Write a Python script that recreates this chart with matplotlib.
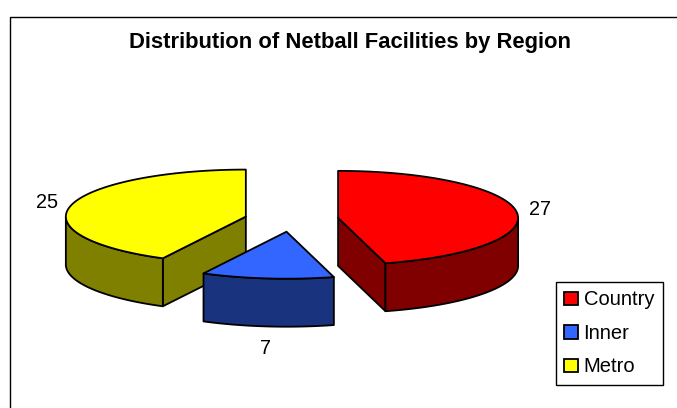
import numpy as np
import matplotlib
matplotlib.use("Agg")
import matplotlib.pyplot as plt
from matplotlib.patches import Polygon, Rectangle, Patch

plt.rcParams['font.family'] = ['Liberation Sans', 'DejaVu Sans']

# data
regions = ["Country", "Inner", "Metro"]
facilities = [27, 7, 25]
top_colors = ["#FF0000", "#3366FF", "#FFFF00"]
side_colors = ["#800000", "#1A337F", "#808000"]

W, H = 677, 408
fig = plt.figure(figsize=(W / 100, H / 100), dpi=100)
ax = fig.add_axes([0, 0, 1, 1])
ax.set_xlim(0, W)
ax.set_ylim(H, 0)
ax.axis('off')

# pie layout in pixels
cx, cy = 291.5, 219.5     # centre of the un-exploded pie
a, b = 180, 47            # ellipse radii of the top face
dep = 48                  # thickness
explode = 47              # explode distance (in x-radius units)
gap = 13                  # label distance from the rim


def pt(c, th, dy=0):
    return (c[0] + a * np.cos(th), c[1] - b * np.sin(th) + dy)


def arc(c, t1, t2, dy=0, n=80):
    ts = np.linspace(t1, t2, n)
    return [pt(c, t, dy) for t in ts]


total = sum(facilities)
start = np.pi / 2
slices = []
for name, v, tc, sc in zip(regions, facilities, top_colors, side_colors):
    sweep = 2 * np.pi * v / total
    t2 = start
    t1 = start - sweep          # clockwise from 12 o'clock
    mid = (t1 + t2) / 2
    c = (cx + explode * np.cos(mid), cy - explode * (b / a) * np.sin(mid))
    slices.append((name, v, tc, sc, t1, t2, mid, c))
    start = t1

edge = dict(edgecolor='black', linewidth=1.3, joinstyle='round')

# back to front
for name, v, tc, sc, t1, t2, mid, c in sorted(slices, key=lambda s: s[7][1]):
    # radial cut faces
    for th, nrm in ((t1, t1 - np.pi / 2), (t2, t2 + np.pi / 2)):
        if np.sin(nrm) < -1e-6:
            p = pt(c, th)
            face = [c, p, (p[0], p[1] + dep), (c[0], c[1] + dep)]
            ax.add_patch(Polygon(face, closed=True, facecolor=sc, **edge))
    # outer curved side (front half only)
    for k in range(-1, 2):
        lo = max(t1, -np.pi + 2 * np.pi * k)
        hi = min(t2, 0 + 2 * np.pi * k)
        if hi > lo:
            side = arc(c, lo, hi) + arc(c, hi, lo, dy=dep)
            ax.add_patch(Polygon(side, closed=True, facecolor=sc, **edge))
    # top face
    top = [c] + arc(c, t1, t2)
    ax.add_patch(Polygon(top, closed=True, facecolor=tc, **edge))

    # value label
    cm, sm = np.cos(mid), np.sin(mid)
    lx = c[0] + (a + gap) * cm
    ly = c[1] - (b + gap) * sm + (dep if sm < 0 else 0)
    ha = 'left' if cm > 0.3 else ('right' if cm < -0.3 else 'center')
    va = 'top' if sm < -0.3 else ('bottom' if sm > 0.3 else 'center')
    ax.text(lx, ly, str(v), ha=ha, va=va, fontsize=14.3)

ax.text(350, 48, "Distribution of Netball Facilities by Region",
        ha='center', va='baseline', fontsize=15.8, fontweight='bold')

# chart area border
ax.add_patch(Rectangle((9.5, 16.5), 700, 500, fill=False,
                       edgecolor='black', linewidth=1, clip_on=True))

handles = [Patch(facecolor=c, edgecolor='black', linewidth=1.3) for c in top_colors]
leg = ax.legend(handles, regions, loc='upper left', bbox_to_anchor=(556, 282),
                bbox_transform=ax.transData, fontsize=14.5, frameon=True,
                fancybox=False, edgecolor='black', framealpha=1,
                borderaxespad=0, handlelength=0.65, handleheight=0.65,
                handletextpad=0.3, labelspacing=0.72, borderpad=0.42)
leg.get_frame().set_linewidth(1)

fig.savefig("out.png", dpi=100)
